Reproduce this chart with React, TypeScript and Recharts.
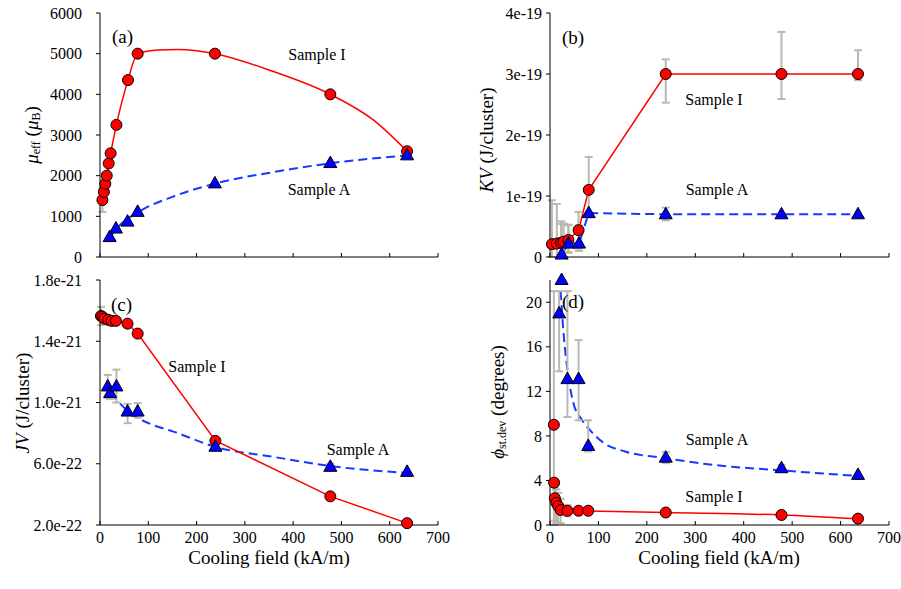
import React from 'react';
import { ComposedChart, Scatter, Line, XAxis, YAxis, ErrorBar } from 'recharts';

const SERIF = '"Liberation Serif", "Times New Roman", serif';
const RED = '#ff0000';
const BLUE = '#0000ff';
const DASH_BLUE = '#1638ff';
const ERR_GREY = '#b9b9b0';
const FRAME_GREY = '#8a8a8a';

const fieldTicks = [0, 100, 200, 300, 400, 500, 600, 700];

// (a) effective moment per cluster, in Bohr magnetons
const momentFieldI = [5, 8, 11, 14, 18, 22, 34, 58, 78, 238, 477, 636];
const momentI = [1400, 1600, 1800, 2000, 2300, 2550, 3250, 4350, 5000, 5000, 4000, 2600];
const momentErrI: [number, number][] = [[290, 290], [0, 0], [0, 0], [0, 0], [0, 0], [0, 0], [0, 0], [0, 0], [0, 0], [0, 0], [0, 0], [0, 0]];
const momentFieldA = [20, 33, 57, 78, 238, 477, 636];
const momentA = [490, 700, 870, 1110, 1810, 2310, 2500];
const momentCurveFieldI = [5, 8, 11, 14, 18, 22, 34, 58, 78, 120, 160, 200, 238, 359, 477, 566, 636];
const momentCurveI = [1400, 1600, 1800, 2000, 2300, 2550, 3250, 4350, 5000, 5090, 5100, 5070, 5000, 4560, 4000, 3370, 2600];
const momentFitFieldA = [20, 40, 80, 150, 240, 360, 480, 636];
const momentFitA = [480, 770, 1110, 1480, 1810, 2090, 2310, 2500];
const momentTicks = [0, 1000, 2000, 3000, 4000, 5000, 6000];

// (b) anisotropy energy KV, J/cluster (values in units of 1e-19)
const KV_UNIT = 1e-19;
const kvFieldI = [4, 14, 23, 28, 38, 59, 80, 239, 478, 636];
const kvI = [0.21, 0.22, 0.235, 0.25, 0.28, 0.44, 1.1, 3.0, 3.0, 3.0];
const kvErrI: [number, number][] = [[0.21, 0.72], [0.22, 0.65], [0.235, 0.35], [0.25, 0.3], [0.2, 0.25], [0.3, 0.3], [0.45, 0.54], [0.47, 0.24], [0.41, 0.69], [0.1, 0.39]];
const kvFieldA = [24, 38, 60, 80, 239, 478, 636];
const kvA = [0.04, 0.22, 0.22, 0.72, 0.7, 0.7, 0.7];
const kvErrA: [number, number][] = [[0.04, 0.5], [0.15, 0.3], [0.12, 0.3], [0, 0], [0.1, 0.11], [0, 0], [0, 0]];
const kvTicks = [0, 1, 2, 3, 4];

// (c) exchange energy JV, J/cluster (values in units of 1e-21)
const JV_UNIT = 1e-21;
const jvFieldI = [2, 5, 9, 17, 24, 33, 57, 78, 239, 477, 636];
const jvI = [1.565, 1.56, 1.548, 1.54, 1.533, 1.533, 1.515, 1.45, 0.75, 0.387, 0.212];
const jvErrI: [number, number][] = [[0.06, 0.06], [0, 0], [0, 0], [0, 0], [0, 0], [0, 0], [0, 0], [0, 0], [0, 0], [0, 0], [0, 0]];
const jvFieldA = [16, 21, 34, 57, 78, 239, 477, 636];
const jvA = [1.105, 1.062, 1.105, 0.941, 0.941, 0.711, 0.58, 0.547];
const jvErrA: [number, number][] = [[0.075, 0.075], [0.04, 0.04], [0.105, 0.11], [0.076, 0.05], [0.04, 0.055], [0, 0], [0.02, 0.02], [0, 0]];
const jvFitFieldA = [21, 31, 52, 78, 110, 152, 239, 359, 477, 636];
const jvFitA = [1.06, 1.03, 0.96, 0.9, 0.853, 0.81, 0.71, 0.645, 0.585, 0.54];
const jvTicks = [0.2, 0.6, 1.0, 1.4, 1.8];

// (d) spread of easy-axis angle, degrees
const phiFieldI = [8, 8.5, 10, 13, 17, 22, 36, 59, 79, 239, 478, 636];
const phiI = [9.0, 3.8, 2.4, 2.0, 1.7, 1.35, 1.28, 1.28, 1.28, 1.12, 0.9, 0.57];
const phiErrI: [number, number][] = [[9.0, 12.0], [0, 0], [2.0, 1.0], [1.8, 1.2], [1.5, 1.2], [1.2, 1.0], [0.5, 0.5], [0, 0], [0, 0], [0, 0], [0, 0], [0, 0]];
const phiFieldA = [19, 24, 36, 59, 79, 239, 478, 636];
const phiA = [19.0, 22.0, 13.1, 13.1, 7.1, 6.05, 5.1, 4.5];
const phiErrA: [number, number][] = [[5.2, 2.0], [0, 0], [3.4, 7.9], [3.7, 3.5], [0.5, 2.3], [0.5, 0.5], [0.3, 0.3], [0, 0]];
const phiFitFieldI = [36, 79, 239, 478, 636];
const phiFitI = [1.28, 1.26, 1.12, 0.9, 0.55];
const phiFitFieldA = [22, 28, 33, 48, 65, 83, 110, 155, 239, 337, 478, 636];
const phiFitA = [21, 17.2, 15, 11, 9.5, 8.5, 7.4, 6.6, 6.0, 5.4, 4.9, 4.4];
const phiTicks = [0, 4, 8, 12, 16, 20];

type Pt = { x: number; y: number; err: [number, number] };

function points(xs: number[], ys: number[], errs?: [number, number][], unit = 1): Pt[] {
  return xs.map((x, i) => ({
    x,
    y: ys[i] * unit,
    err: errs ? [errs[i][0] * unit, errs[i][1] * unit] : [0, 0],
  }));
}

const RedDot = (p: any) => (
  <circle cx={p.cx} cy={p.cy} r={5.5} fill={RED} stroke="#000" strokeWidth={1} />
);

const BlueTri = (p: any) => (
  <polygon
    points={`${p.cx},${p.cy - 7} ${p.cx + 6.5},${p.cy + 4.5} ${p.cx - 6.5},${p.cy + 4.5}`}
    fill={BLUE}
    stroke="#000"
    strokeWidth={1}
  />
);

const errBar = <ErrorBar dataKey="err" direction="y" width={4} stroke={ERR_GREY} strokeWidth={2} />;

interface PanelProps {
  left: number;
  top: number;
  lower: boolean;
  yDomain: [number, number];
  yTicks: number[];
  yFormat: (v: number) => string;
  tickGap: number;
  children: React.ReactNode;
}

function Panel({ left, top, lower, yDomain, yTicks, yFormat, tickGap, children }: PanelProps) {
  const width = left === 0 ? 450 : 451;
  const height = lower ? 285 : 270;
  return (
    <div style={{ position: 'absolute', left, top }}>
      <ComposedChart
        width={width}
        height={height}
        margin={{ top: lower ? 10 : 13, right: 12, bottom: 0, left: 40 }}
      >
        <XAxis
          type="number"
          dataKey="x"
          domain={[0, 700]}
          ticks={fieldTicks}
          interval={0}
          height={lower ? 30 : 13}
          tickSize={-4}
          tickMargin={lower ? 10.5 : 0}
          axisLine={{ stroke: '#000' }}
          tickLine={{ stroke: '#000' }}
          tick={{ fill: '#000', fontSize: 16, fontFamily: SERIF }}
          tickFormatter={(v) => (lower ? String(v) : '')}
        />
        <YAxis
          type="number"
          dataKey="y"
          domain={yDomain}
          ticks={yTicks}
          interval={0}
          width={60}
          tickSize={4}
          tickMargin={tickGap}
          axisLine={{ stroke: '#000' }}
          tickLine={{ stroke: '#000' }}
          tick={{ fill: '#000', fontSize: 16, fontFamily: SERIF }}
          tickFormatter={yFormat}
        />
        <XAxis
          xAxisId="frame"
          orientation="top"
          type="number"
          domain={[0, 700]}
          height={0}
          tick={false}
          tickLine={false}
          axisLine={{ stroke: FRAME_GREY }}
        />
        <YAxis
          yAxisId="frame"
          orientation="right"
          type="number"
          domain={[0, 1]}
          width={0}
          tick={false}
          tickLine={false}
          axisLine={{ stroke: FRAME_GREY }}
        />
        {children}
      </ComposedChart>
    </div>
  );
}

const panelTags = [
  { text: '(a)', x: 112, y: 36 },
  { text: '(b)', x: 562, y: 37 },
  { text: '(c)', x: 111, y: 304 },
  { text: '(d)', x: 562, y: 301 },
];

const sampleTags = [
  { text: 'Sample I', x: 317, y: 54 },
  { text: 'Sample A', x: 319, y: 189 },
  { text: 'Sample I', x: 714, y: 99 },
  { text: 'Sample A', x: 717, y: 189 },
  { text: 'Sample I', x: 197, y: 366 },
  { text: 'Sample A', x: 358, y: 449 },
  { text: 'Sample A', x: 717, y: 439 },
  { text: 'Sample I', x: 714, y: 496 },
];

export default function App() {
  return (
    <div
      style={{
        position: 'absolute',
        left: 0,
        top: 0,
        width: 901,
        height: 589,
        background: '#fff',
        fontFamily: SERIF,
      }}
    >
      <Panel
        left={0}
        top={0}
        lower={false}
        yDomain={[0, 6000]}
        yTicks={momentTicks}
        yFormat={(v) => String(v)}
        tickGap={14}
      >
        <Line data={points(momentFitFieldA, momentFitA)} dataKey="y" type="monotone" stroke={DASH_BLUE} strokeWidth={2} strokeDasharray="9 5" dot={false} activeDot={false} isAnimationActive={false} />
        <Line data={points(momentCurveFieldI, momentCurveI)} dataKey="y" type="monotone" stroke={RED} strokeWidth={1.5} dot={false} activeDot={false} isAnimationActive={false} />
        <Scatter data={points(momentFieldI, momentI, momentErrI)} dataKey="y" shape={RedDot} isAnimationActive={false}>
          {errBar}
        </Scatter>
        <Scatter data={points(momentFieldA, momentA)} dataKey="y" shape={BlueTri} isAnimationActive={false} />
      </Panel>

      <Panel
        left={450}
        top={0}
        lower={false}
        yDomain={[0, 4 * KV_UNIT]}
        yTicks={kvTicks.map((t) => t * KV_UNIT)}
        yFormat={(v) => (v === 0 ? '0' : v.toExponential(0))}
        tickGap={4}
      >
        <Line data={points(kvFieldA, kvA, undefined, KV_UNIT)} dataKey="y" type="linear" stroke={DASH_BLUE} strokeWidth={2} strokeDasharray="9 5" dot={false} activeDot={false} isAnimationActive={false} />
        <Line data={points(kvFieldI, kvI, undefined, KV_UNIT)} dataKey="y" type="linear" stroke={RED} strokeWidth={1.5} dot={false} activeDot={false} isAnimationActive={false} />
        <Scatter data={points(kvFieldI, kvI, kvErrI, KV_UNIT)} dataKey="y" shape={RedDot} isAnimationActive={false}>
          {errBar}
        </Scatter>
        <Scatter data={points(kvFieldA, kvA, kvErrA, KV_UNIT)} dataKey="y" shape={BlueTri} isAnimationActive={false}>
          {errBar}
        </Scatter>
      </Panel>

      <Panel
        left={0}
        top={270}
        lower
        yDomain={[0.2 * JV_UNIT, 1.8 * JV_UNIT]}
        yTicks={jvTicks.map((t) => t * JV_UNIT)}
        yFormat={(v) => v.toExponential(1)}
        tickGap={14}
      >
        <Line data={points(jvFitFieldA, jvFitA, undefined, JV_UNIT)} dataKey="y" type="monotone" stroke={DASH_BLUE} strokeWidth={2} strokeDasharray="9 5" dot={false} activeDot={false} isAnimationActive={false} />
        <Line data={points(jvFieldI, jvI, undefined, JV_UNIT)} dataKey="y" type="linear" stroke={RED} strokeWidth={1.5} dot={false} activeDot={false} isAnimationActive={false} />
        <Scatter data={points(jvFieldI, jvI, jvErrI, JV_UNIT)} dataKey="y" shape={RedDot} isAnimationActive={false}>
          {errBar}
        </Scatter>
        <Scatter data={points(jvFieldA, jvA, jvErrA, JV_UNIT)} dataKey="y" shape={BlueTri} isAnimationActive={false}>
          {errBar}
        </Scatter>
      </Panel>

      <Panel
        left={450}
        top={270}
        lower
        yDomain={[0, 22]}
        yTicks={phiTicks}
        yFormat={(v) => String(v)}
        tickGap={4}
      >
        <Line data={points(phiFitFieldA, phiFitA)} dataKey="y" type="monotone" stroke={DASH_BLUE} strokeWidth={2} strokeDasharray="9 5" dot={false} activeDot={false} isAnimationActive={false} />
        <Line data={points(phiFitFieldI, phiFitI)} dataKey="y" type="monotone" stroke={RED} strokeWidth={1.5} dot={false} activeDot={false} isAnimationActive={false} />
        <Scatter data={points(phiFieldI, phiI, phiErrI)} dataKey="y" shape={RedDot} isAnimationActive={false}>
          {errBar}
        </Scatter>
        <Scatter data={points(phiFieldA, phiA, phiErrA)} dataKey="y" shape={BlueTri} isAnimationActive={false}>
          {errBar}
        </Scatter>
      </Panel>

      <svg
        width={901}
        height={589}
        style={{ position: 'absolute', left: 0, top: 0, pointerEvents: 'none' }}
        fontFamily={SERIF}
        fill="#000"
      >
        {panelTags.map((t) => (
          <text key={t.text} x={t.x} y={t.y} fontSize={19} dominantBaseline="central">
            {t.text}
          </text>
        ))}
        {sampleTags.map((t, i) => (
          <text key={i} x={t.x} y={t.y} fontSize={16} textAnchor="middle" dominantBaseline="central">
            {t.text}
          </text>
        ))}
        <text x={269} y={557} fontSize={19} textAnchor="middle" dominantBaseline="central">
          Cooling field (kA/m)
        </text>
        <text x={719} y={557} fontSize={19} textAnchor="middle" dominantBaseline="central">
          Cooling field (kA/m)
        </text>

        <text transform="translate(31 135) rotate(-90)" fontSize={19} textAnchor="middle" dominantBaseline="central">
          <tspan fontStyle="italic">μ</tspan>
          <tspan fontSize={12} dy={5}>eff</tspan>
          <tspan dy={-5}> (</tspan>
          <tspan fontStyle="italic">μ</tspan>
          <tspan fontSize={12} dy={5}>B</tspan>
          <tspan dy={-5}>)</tspan>
        </text>
        <text transform="translate(486 140) rotate(-90)" fontSize={19} textAnchor="middle" dominantBaseline="central">
          <tspan fontStyle="italic">KV</tspan> (J/cluster)
        </text>
        <text transform="translate(22 403) rotate(-90)" fontSize={19} textAnchor="middle" dominantBaseline="central">
          <tspan fontStyle="italic">JV</tspan> (J/cluster)
        </text>
        <text transform="translate(497 402) rotate(-90)" fontSize={19} textAnchor="middle" dominantBaseline="central">
          <tspan fontStyle="italic">ϕ</tspan>
          <tspan fontSize={12} dy={5}>st.dev</tspan>
          <tspan dy={-5}> (degrees)</tspan>
        </text>
      </svg>
    </div>
  );
}
